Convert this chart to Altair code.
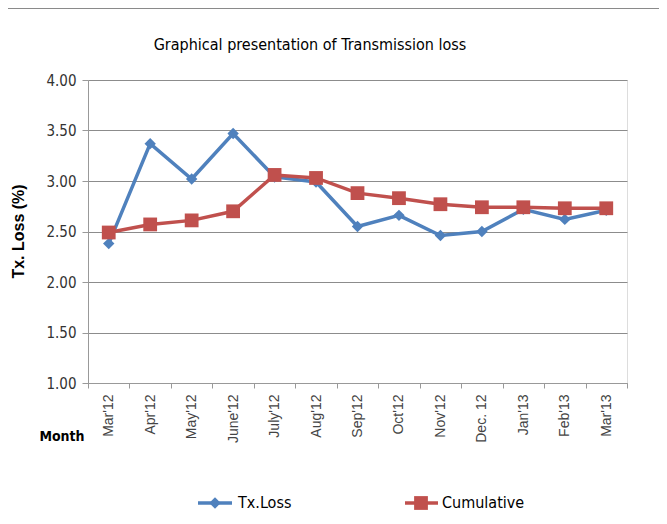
import altair as alt
import pandas as pd

months = ["Mar'12", "Apr'12", "May'12", "June'12", "July'12", "Aug'12", "Sep'12",
          "Oct'12", "Nov'12", "Dec. 12", "Jan'13", "Feb'13", "Mar'13"]
tx_loss = [2.38, 3.37, 3.02, 3.47, 3.04, 2.99, 2.55, 2.66, 2.46, 2.50, 2.72, 2.62, 2.71]
cumulative = [2.49, 2.57, 2.61, 2.70, 3.06, 3.03, 2.88, 2.83, 2.77, 2.74, 2.74, 2.73, 2.73]
y_ticks = [1.0, 1.5, 2.0, 2.5, 3.0, 3.5, 4.0]

BLUE = "#4f81bd"
RED = "#c0504d"
NARROW = "DejaVu Sans Condensed, Roboto Condensed, Roboto"

df = pd.DataFrame({
    "Month": months * 2,
    "Value": tx_loss + cumulative,
    "Series": ["Tx.Loss"] * len(months) + ["Cumulative"] * len(months),
})

x_enc = alt.X("Month:N", sort=months,
              scale=alt.Scale(type="band", paddingInner=0, paddingOuter=0),
              axis=alt.Axis(title=None, labelAngle=-90, labelAlign="right", labelBaseline="middle",
                            labelFont="Liberation Sans", labelFontSize=14, labelColor="#444",
                            labelPadding=6, tickBand="extent", tickSize=5, tickColor="#999",
                            domainColor="#999", grid=False))
y_enc = alt.Y("Value:Q", scale=alt.Scale(domain=[1, 4], nice=False, zero=False),
              axis=alt.Axis(values=y_ticks, format=".2f", title="Tx. Loss (%)",
                            titleFont="Liberation Sans", titleFontSize=16, titleFontWeight="bold",
                            titleColor="#000", titleAngle=-90, titleX=-70, titleY=151,
                            titleAlign="center", titleBaseline="middle",
                            labelFont=NARROW, labelFontSize=15, labelColor="#333", labelPadding=6,
                            tickSize=6, tickColor="#999", domainColor="#999",
                            grid=True, gridColor="#8c8c8c", gridWidth=1))

base = alt.Chart(df).encode(x=x_enc, y=y_enc)

tx_line = base.transform_filter(alt.datum.Series == "Tx.Loss").mark_line(
    color=BLUE, strokeWidth=3.5)
tx_pts = base.transform_filter(alt.datum.Series == "Tx.Loss").mark_point(
    shape="diamond", filled=True, color=BLUE, size=130, opacity=1)
cu_line = base.transform_filter(alt.datum.Series == "Cumulative").mark_line(
    color=RED, strokeWidth=3.5)
cu_pts = base.transform_filter(alt.datum.Series == "Cumulative").mark_point(
    shape="square", filled=True, color=RED, size=190, opacity=1)

one = pd.DataFrame({"k": [0]})

frame = alt.Chart(one).mark_rect(fill=None, stroke="#8a8a8a", strokeWidth=2, clip=False).encode(
    x=alt.value(-83), x2=alt.value(600), y=alt.value(-72), y2=alt.value(460))

title = alt.Chart(one).mark_text(text="Graphical presentation of Transmission loss",
                                 font=NARROW, fontSize=16, color="#000", align="center",
                                 baseline="middle").encode(x=alt.value(222), y=alt.value(-35))

month_lbl = alt.Chart(one).mark_text(text="Month", font=NARROW, fontSize=14, fontWeight="bold",
                                     color="#000", align="center", baseline="middle").encode(
    x=alt.value(-26), y=alt.value(357))

leg_y = 423
leg_tx_rule = alt.Chart(one).mark_rule(color=BLUE, strokeWidth=3.5).encode(
    x=alt.value(110), x2=alt.value(144), y=alt.value(leg_y))
leg_tx_pt = alt.Chart(one).mark_point(shape="diamond", filled=True, color=BLUE, size=130,
                                      opacity=1).encode(x=alt.value(127), y=alt.value(leg_y))
leg_tx_txt = alt.Chart(one).mark_text(text="Tx.Loss", font=NARROW, fontSize=16, color="#000",
                                      align="left", baseline="middle").encode(
    x=alt.value(150), y=alt.value(leg_y))
leg_cu_rule = alt.Chart(one).mark_rule(color=RED, strokeWidth=3.5).encode(
    x=alt.value(317), x2=alt.value(350), y=alt.value(leg_y))
leg_cu_pt = alt.Chart(one).mark_point(shape="square", filled=True, color=RED, size=190,
                                      opacity=1).encode(x=alt.value(333), y=alt.value(leg_y))
leg_cu_txt = alt.Chart(one).mark_text(text="Cumulative", font=NARROW, fontSize=16, color="#000",
                                      align="left", baseline="middle").encode(
    x=alt.value(354), y=alt.value(leg_y))

chart = alt.layer(
    frame, tx_line, tx_pts, cu_line, cu_pts, title, month_lbl,
    leg_tx_rule, leg_tx_pt, leg_tx_txt, leg_cu_rule, leg_cu_pt, leg_cu_txt,
).properties(
    width=539, height=303,
    autosize=alt.AutoSizeParams(type="none"),
    padding={"left": 80, "top": 72, "right": 32, "bottom": 133},
).configure_view(stroke=None).configure(background="white")

chart.save("out.html", embed_options={"renderer": "svg", "actions": False})
